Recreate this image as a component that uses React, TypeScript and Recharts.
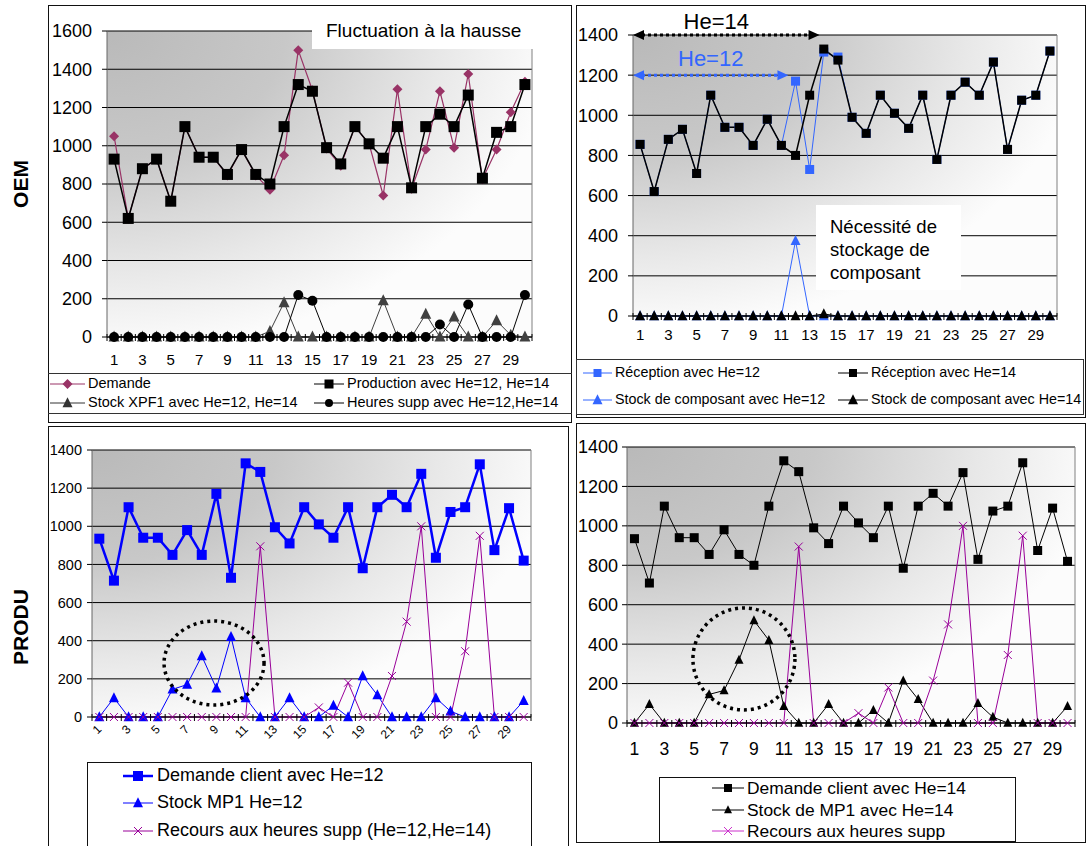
import React from 'react';
import { LineChart, Line, XAxis, YAxis, CartesianGrid, ReferenceLine, ReferenceDot } from 'recharts';

// periods 1..30
const days = [1, 2, 3, 4, 5, 6, 7, 8, 9, 10, 11, 12, 13, 14, 15, 16, 17, 18, 19, 20, 21, 22, 23, 24, 25, 26, 27, 28, 29, 30];
const dayLabels = [1, 3, 5, 7, 9, 11, 13, 15, 17, 19, 21, 23, 25, 27, 29];
const dayBoundaries = [...days.map(d => d - 0.5), 30.5];
const axisTicks = [...dayBoundaries, ...dayLabels].sort((a, b) => a - b);

const yTicks1600 = [0, 200, 400, 600, 800, 1000, 1200, 1400, 1600];
const yTicks1400 = [0, 200, 400, 600, 800, 1000, 1200, 1400];

// OEM - fluctuation à la hausse
const oemDemande = [1050, 620, 880, 930, 710, 1100, 940, 940, 845, 980, 845, 770, 950, 1500, 1290, 985, 895, 1100, 1010, 740, 1295, 775, 980, 1285, 990, 1375, 825, 980, 1175, 1335];
const oemProduction = [930, 620, 880, 930, 710, 1100, 940, 940, 850, 980, 850, 800, 1100, 1320, 1285, 990, 905, 1100, 1010, 935, 1100, 780, 1100, 1165, 1100, 1265, 830, 1070, 1100, 1320];
const oemStockXPF1 = [0, 0, 0, 0, 0, 0, 0, 0, 0, 0, 0, 30, 180, 0, 0, 0, 0, 0, 0, 190, 0, 0, 120, 0, 105, 0, 0, 85, 10, 0];
const oemHeuresSupp = [0, 0, 0, 0, 0, 0, 0, 0, 0, 0, 0, 0, 0, 220, 190, 0, 0, 0, 0, 0, 0, 0, 0, 65, 0, 170, 0, 0, 0, 220];

// OEM - réception / stock de composant
const receptionHe12 = [855, 620, 880, 930, 710, 1100, 940, 940, 850, 980, 850, 1170, 730, 1315, 1290, 990, 910, 1100, 1010, 935, 1100, 780, 1100, 1165, 1100, 1265, 830, 1075, 1100, 1320];
const receptionHe14 = [855, 620, 880, 930, 710, 1100, 940, 940, 850, 980, 850, 800, 1100, 1330, 1275, 990, 910, 1100, 1010, 935, 1100, 780, 1100, 1165, 1100, 1265, 830, 1075, 1100, 1320];
const stockCompHe12 = [0, 0, 0, 0, 0, 0, 0, 0, 0, 0, 0, 375, 0, 0, 0, 0, 0, 0, 0, 0, 0, 0, 0, 0, 0, 0, 0, 0, 0, 0];
const stockCompHe14 = [0, 0, 0, 0, 0, 0, 0, 0, 0, 0, 0, 0, 0, 10, 0, 0, 0, 0, 0, 0, 0, 0, 0, 0, 0, 0, 0, 0, 0, 0];

// PRODU
const produDemandeHe12 = [935, 715, 1100, 940, 940, 850, 980, 850, 1170, 730, 1330, 1285, 995, 910, 1100, 1010, 940, 1100, 780, 1100, 1165, 1100, 1275, 835, 1075, 1100, 1325, 875, 1095, 820];
const produStockMP1He12 = [0, 100, 0, 0, 0, 145, 170, 320, 150, 420, 100, 0, 0, 100, 0, 0, 60, 0, 215, 115, 0, 0, 0, 100, 30, 0, 0, 0, 0, 85];
const produDemandeHe14 = [935, 710, 1100, 940, 940, 855, 980, 855, 800, 1100, 1330, 1275, 990, 910, 1100, 1015, 940, 1100, 785, 1100, 1165, 1100, 1270, 830, 1075, 1100, 1320, 875, 1090, 820];
const produStockMP1He14 = [0, 95, 0, 0, 0, 145, 165, 320, 520, 420, 85, 0, 0, 95, 0, 0, 65, 0, 215, 120, 0, 0, 0, 100, 30, 0, 0, 0, 0, 85];
const recoursHeuresSupp = [0, 0, 0, 0, 0, 0, 0, 0, 0, 0, 0, 895, 0, 0, 0, 50, 0, 180, 0, 0, 215, 500, 1000, 0, 0, 345, 950, 0, 0, 0];

const oemRows = days.map((day, i) => ({ day, demande: oemDemande[i], production: oemProduction[i], stock: oemStockXPF1[i], heures: oemHeuresSupp[i] }));
const receptionRows = days.map((day, i) => ({ day, rec12: receptionHe12[i], rec14: receptionHe14[i], st12: stockCompHe12[i], st14: stockCompHe14[i] }));
const produ12Rows = days.map((day, i) => ({ day, demande: produDemandeHe12[i], stock: produStockMP1He12[i], recours: recoursHeuresSupp[i] }));
const produ14Rows = days.map((day, i) => ({ day, demande: produDemandeHe14[i], stock: produStockMP1He14[i], recours: recoursHeuresSupp[i] }));

const FONT = '"Liberation Sans", Arial, sans-serif';
const PURPLE = '#990099';

type Marker = 'square' | 'diamond' | 'triangle' | 'circle' | 'cross';
interface SeriesDef { key: string; name: string; color: string; width: number; marker: Marker; size: number }

const markerShape = (m: Marker, cx: number, cy: number, s: number, color: string, key?: string) => {
  switch (m) {
    case 'square':
      return <rect key={key} x={cx - s / 2} y={cy - s / 2} width={s} height={s} fill={color} />;
    case 'diamond':
      return <polygon key={key} points={`${cx},${cy - s / 2} ${cx + s / 2},${cy} ${cx},${cy + s / 2} ${cx - s / 2},${cy}`} fill={color} />;
    case 'triangle':
      return <polygon key={key} points={`${cx},${cy - s * 0.58} ${cx - s / 2},${cy + s * 0.42} ${cx + s / 2},${cy + s * 0.42}`} fill={color} />;
    case 'circle':
      return <circle key={key} cx={cx} cy={cy} r={s / 2} fill={color} />;
    default:
      return <path key={key} d={`M${cx - s / 2},${cy - s / 2}L${cx + s / 2},${cy + s / 2}M${cx - s / 2},${cy + s / 2}L${cx + s / 2},${cy - s / 2}`} stroke={color} strokeWidth={1} fill="none" />;
  }
};

const makeTick = (fontSize: number, gap: number, rotate: boolean) => (props: any) => {
  const { x, y, payload } = props;
  const v = payload.value;
  if (!Number.isInteger(v)) {
    const axisY = y - gap;
    return <line x1={x} x2={x} y1={axisY - 3} y2={axisY + 4} stroke="#000" strokeWidth={1} />;
  }
  if (v % 2 === 0) return <g />;
  if (rotate) {
    return (
      <text x={x} y={y} transform={`rotate(-45 ${x} ${y})`} textAnchor="end" dy="0.35em" fontSize={fontSize} fill="#000">{v}</text>
    );
  }
  return <text x={x} y={y} textAnchor="middle" dy="0.71em" fontSize={fontSize} fill="#000">{v}</text>;
};

interface PanelProps {
  left: number; top: number; width: number; height: number;
  margin: { top: number; right: number; bottom: number; left: number };
  data: any[]; series: SeriesDef[];
  yMax: number; yTicks: number[]; yFont: number; yGap: number; yWidth: number;
  xFont: number; xGap: number; xHeight: number; rotateX?: boolean;
  gradId: string; children?: React.ReactNode;
}

const PanelChart = (p: PanelProps) => (
  <div style={{ position: 'absolute', left: p.left, top: p.top }}>
    <LineChart width={p.width} height={p.height} data={p.data} margin={p.margin}>
      <defs>
        <radialGradient id={p.gradId} cx="0" cy="0" fx="0" fy="0" r="1.05">
          <stop offset="0" stopColor="#b9b9b9" />
          <stop offset="0.4" stopColor="#c8c8c8" />
          <stop offset="0.75" stopColor="#e8e8e8" />
          <stop offset="1" stopColor="#fcfcfc" />
        </radialGradient>
      </defs>
      <CartesianGrid vertical={false} stroke="#000" fill={`url(#${p.gradId})`} fillOpacity={1} />
      <XAxis
        dataKey="day"
        type="number"
        domain={[0.5, 30.5]}
        ticks={axisTicks}
        interval={0}
        tickLine={false}
        tickSize={0}
        tickMargin={p.xGap}
        height={p.xHeight}
        axisLine={{ stroke: '#000' }}
        tick={makeTick(p.xFont, p.xGap, !!p.rotateX)}
      />
      <YAxis
        type="number"
        domain={[0, p.yMax]}
        ticks={p.yTicks}
        interval={0}
        width={p.yWidth}
        tickSize={5}
        tickMargin={p.yGap}
        axisLine={{ stroke: '#666' }}
        tickLine={{ stroke: '#000' }}
        tick={{ fontSize: p.yFont, fill: '#000' }}
      />
      <ReferenceLine x={30.5} stroke="#808080" />
      {p.series.map(s => (
        <Line
          key={s.key}
          dataKey={s.key}
          name={s.name}
          type="linear"
          stroke={s.color}
          strokeWidth={s.width}
          isAnimationActive={false}
          activeDot={false}
          dot={(d: any) =>
            d.cx == null ? <g key={`${s.key}-e${d.index}`} /> : markerShape(s.marker, d.cx, d.cy, s.size, s.color, `${s.key}-${d.index}`)
          }
        />
      ))}
      {p.children}
    </LineChart>
  </div>
);

const arrowShape = (color: string, label: string, labelDx: number, labelDy: number) => (p: any) => {
  const { x1, y1, x2, y2 } = p;
  return (
    <g>
      <line x1={x1 + 9} y1={y1} x2={x2 - 9} y2={y2} stroke={color} strokeWidth={3} strokeDasharray="3 3" />
      <polygon points={`${x1},${y1} ${x1 + 11},${y1 - 5} ${x1 + 11},${y1 + 5}`} fill={color} />
      <polygon points={`${x2},${y2} ${x2 - 11},${y2 - 5} ${x2 - 11},${y2 + 5}`} fill={color} />
      <text x={(x1 + x2) / 2 + labelDx} y={y1 + labelDy} textAnchor="middle" fontSize={22} fill={color}>{label}</text>
    </g>
  );
};

const ellipseShape = (rx: number, ry: number) => (p: any) => (
  <ellipse cx={p.cx} cy={p.cy} rx={rx} ry={ry} fill="none" stroke="#000" strokeWidth={3.5} strokeDasharray="3 4" />
);

interface LegendEntry { label: string; color: string; marker: Marker; size: number; lineWidth: number; symX: number; symW: number; textX: number; y: number }

const LegendItem = ({ e, fontSize }: { e: LegendEntry; fontSize: number }) => (
  <>
    <svg style={{ position: 'absolute', left: e.symX, top: e.y - 8 }} width={e.symW} height={16}>
      <line x1={0} x2={e.symW} y1={8} y2={8} stroke={e.color} strokeWidth={e.lineWidth} />
      {markerShape(e.marker, e.symW / 2, 8, e.size, e.color)}
    </svg>
    <div style={{ position: 'absolute', left: e.textX, top: e.y - fontSize * 0.6, fontSize, lineHeight: `${fontSize * 1.2}px`, whiteSpace: 'nowrap', color: '#000' }}>
      {e.label}
    </div>
  </>
);

const frame = (left: number, top: number, width: number, height: number): React.CSSProperties => ({
  position: 'absolute', left, top, width, height, border: '1px solid #111', boxSizing: 'border-box',
});

const oemSeries: SeriesDef[] = [
  { key: 'demande', name: 'Demande', color: '#993366', width: 1.2, marker: 'diamond', size: 10 },
  { key: 'production', name: 'Production avec He=12, He=14', color: '#000', width: 1.5, marker: 'square', size: 11 },
  { key: 'stock', name: 'Stock XPF1 avec He=12, He=14', color: '#404040', width: 1, marker: 'triangle', size: 11 },
  { key: 'heures', name: 'Heures supp avec He=12,He=14', color: '#000', width: 1, marker: 'circle', size: 10 },
];
const receptionSeries: SeriesDef[] = [
  { key: 'rec12', name: 'Réception avec He=12', color: '#3366ff', width: 1, marker: 'square', size: 9 },
  { key: 'rec14', name: 'Réception avec He=14', color: '#000', width: 1.5, marker: 'square', size: 9 },
  { key: 'st12', name: 'Stock de composant avec He=12', color: '#3366ff', width: 1, marker: 'triangle', size: 10 },
  { key: 'st14', name: 'Stock de composant avec He=14', color: '#000', width: 1, marker: 'triangle', size: 10 },
];
const produ12Series: SeriesDef[] = [
  { key: 'demande', name: 'Demande client avec He=12', color: '#0000ff', width: 2.5, marker: 'square', size: 10 },
  { key: 'stock', name: 'Stock MP1 He=12', color: '#0000ff', width: 1, marker: 'triangle', size: 10 },
  { key: 'recours', name: 'Recours aux heures supp (He=12,He=14)', color: PURPLE, width: 1, marker: 'cross', size: 8 },
];
const produ14Series: SeriesDef[] = [
  { key: 'demande', name: 'Demande client avec He=14', color: '#000', width: 1, marker: 'square', size: 9 },
  { key: 'stock', name: 'Stock de MP1 avec He=14', color: '#000', width: 1, marker: 'triangle', size: 9 },
  { key: 'recours', name: 'Recours aux heures supp', color: PURPLE, width: 1, marker: 'cross', size: 8 },
];

const oemLegend: LegendEntry[] = [
  { label: 'Demande', color: '#993366', marker: 'diamond', size: 10, lineWidth: 1, symX: 50, symW: 35, textX: 88, y: 384 },
  { label: 'Production avec He=12, He=14', color: '#000', marker: 'square', size: 9, lineWidth: 1, symX: 314, symW: 30, textX: 347, y: 384 },
  { label: 'Stock XPF1 avec He=12, He=14', color: '#333', marker: 'triangle', size: 10, lineWidth: 1, symX: 50, symW: 35, textX: 88, y: 403 },
  { label: 'Heures supp avec He=12,He=14', color: '#000', marker: 'circle', size: 8, lineWidth: 1, symX: 314, symW: 30, textX: 347, y: 403 },
];
const receptionLegend: LegendEntry[] = [
  { label: 'Réception avec He=12', color: '#3366ff', marker: 'square', size: 8, lineWidth: 1, symX: 583, symW: 29, textX: 615, y: 373 },
  { label: 'Réception avec He=14', color: '#000', marker: 'square', size: 8, lineWidth: 1, symX: 838, symW: 30, textX: 871, y: 373 },
  { label: 'Stock de composant avec He=12', color: '#3366ff', marker: 'triangle', size: 10, lineWidth: 1, symX: 583, symW: 29, textX: 615, y: 400 },
  { label: 'Stock de composant avec He=14', color: '#000', marker: 'triangle', size: 10, lineWidth: 1, symX: 838, symW: 30, textX: 871, y: 400 },
];
const produ12Legend: LegendEntry[] = [
  { label: 'Demande client avec He=12', color: '#0000ff', marker: 'square', size: 10, lineWidth: 2.5, symX: 123, symW: 30, textX: 157, y: 776 },
  { label: 'Stock MP1 He=12', color: '#0000ff', marker: 'triangle', size: 10, lineWidth: 1, symX: 123, symW: 30, textX: 157, y: 803 },
  { label: 'Recours aux heures supp (He=12,He=14)', color: PURPLE, marker: 'cross', size: 8, lineWidth: 1, symX: 123, symW: 30, textX: 157, y: 831 },
];
const produ14Legend: LegendEntry[] = [
  { label: 'Demande client avec He=14', color: '#000', marker: 'square', size: 8, lineWidth: 1, symX: 712, symW: 32, textX: 747, y: 788 },
  { label: 'Stock de MP1 avec He=14', color: '#000', marker: 'triangle', size: 8, lineWidth: 1, symX: 712, symW: 32, textX: 747, y: 810 },
  { label: 'Recours aux heures supp', color: '#cc33cc', marker: 'cross', size: 8, lineWidth: 1, symX: 712, symW: 32, textX: 747, y: 831 },
];

const sideLabel = (text: string, cy: number) => (
  <div style={{ position: 'absolute', left: 21 - 60, top: cy - 13, width: 120, textAlign: 'center', fontWeight: 'bold', fontSize: 21, transform: 'rotate(-90deg)', color: '#000' }}>
    {text}
  </div>
);

export default function App() {
  return (
    <div style={{ position: 'relative', width: 1088, height: 846, background: '#fff', fontFamily: FONT, overflow: 'hidden' }}>
      <style>{'body{margin:0}'}</style>

      {sideLabel('OEM', 185)}
      {sideLabel('PRODU', 628)}

      {/* top-left : OEM demande / production */}
      <div style={frame(48, 5, 524, 418)} />
      <PanelChart
        left={48} top={6} width={522} height={364}
        margin={{ top: 25, right: 38, bottom: 5, left: 7 }}
        data={oemRows} series={oemSeries}
        yMax={1600} yTicks={yTicks1600} yFont={18} yGap={10} yWidth={52}
        xFont={15} xGap={17} xHeight={28} gradId="bg1"
      />
      <div style={{ position: 'absolute', left: 312, top: 12, width: 221, height: 37, background: '#fff', fontSize: 19, lineHeight: '37px', paddingLeft: 14, boxSizing: 'border-box', whiteSpace: 'nowrap' }}>
        Fluctuation à la hausse
      </div>
      <div style={{ position: 'absolute', left: 48, top: 373, width: 524, height: 41, borderTop: '1px solid #333', borderBottom: '1px solid #333', boxSizing: 'border-box' }} />
      {oemLegend.map(e => <LegendItem key={e.label} e={e} fontSize={14.5} />)}

      {/* top-right : réception */}
      <div style={frame(576, 5, 510, 413)} />
      <PanelChart
        left={577} top={6} width={508} height={350}
        margin={{ top: 29, right: 28, bottom: 12, left: 6 }}
        data={receptionRows} series={receptionSeries}
        yMax={1400} yTicks={yTicks1400} yFont={18} yGap={10} yWidth={50}
        xFont={15} xGap={13} xHeight={28} gradId="bg2"
      >
        <ReferenceLine segment={[{ x: 0.5, y: 1400 }, { x: 13.7, y: 1400 }]} shape={arrowShape('#000', 'He=14', -10, -6)} />
        <ReferenceLine segment={[{ x: 0.5, y: 1200 }, { x: 11.5, y: 1200 }]} shape={arrowShape('#3366ff', 'He=12', 0, -9)} />
      </PanelChart>
      <div style={{ position: 'absolute', left: 816, top: 205, width: 145, height: 85, background: '#fff', fontSize: 18.5, lineHeight: '23px', paddingLeft: 14, paddingTop: 10, boxSizing: 'border-box', whiteSpace: 'nowrap' }}>
        Nécessité de<br />stockage de<br />composant
      </div>
      <div style={{ position: 'absolute', left: 576, top: 359, width: 508, height: 56, border: '1px solid #333', boxSizing: 'border-box' }} />
      {receptionLegend.map(e => <LegendItem key={e.label} e={e} fontSize={14.3} />)}

      {/* bottom-left : PRODU He=12 */}
      <div style={frame(48, 426, 521, 440)} />
      <PanelChart
        left={49} top={425} width={521} height={335}
        margin={{ top: 25, right: 39, bottom: 3, left: 5 }}
        data={produ12Rows} series={produ12Series}
        yMax={1400} yTicks={yTicks1400} yFont={14.5} yGap={5} yWidth={38}
        xFont={12} xGap={10} xHeight={40} rotateX gradId="bg3"
      >
        <ReferenceDot x={8.84} y={283} r={1} shape={ellipseShape(50, 42)} />
      </PanelChart>
      <div style={{ position: 'absolute', left: 87, top: 762, width: 445, height: 120, border: '1px solid #111', boxSizing: 'border-box' }} />
      {produ12Legend.map(e => <LegendItem key={e.label} e={e} fontSize={18} />)}

      {/* bottom-right : PRODU He=14 */}
      <div style={frame(576, 423, 510, 420)} />
      <PanelChart
        left={577} top={423} width={508} height={345}
        margin={{ top: 24, right: 10, bottom: 10, left: 2 }}
        data={produ14Rows} series={produ14Series}
        yMax={1400} yTicks={yTicks1400} yFont={18} yGap={4} yWidth={48}
        xFont={17.5} xGap={20} xHeight={35} gradId="bg4"
      >
        <ReferenceDot x={8.33} y={325} r={1} shape={ellipseShape(51, 51)} />
      </PanelChart>
      <div style={{ position: 'absolute', left: 659, top: 777, width: 357, height: 65, border: '1px solid #111', boxSizing: 'border-box' }} />
      {produ14Legend.map(e => <LegendItem key={e.label} e={e} fontSize={17.4} />)}
    </div>
  );
}
